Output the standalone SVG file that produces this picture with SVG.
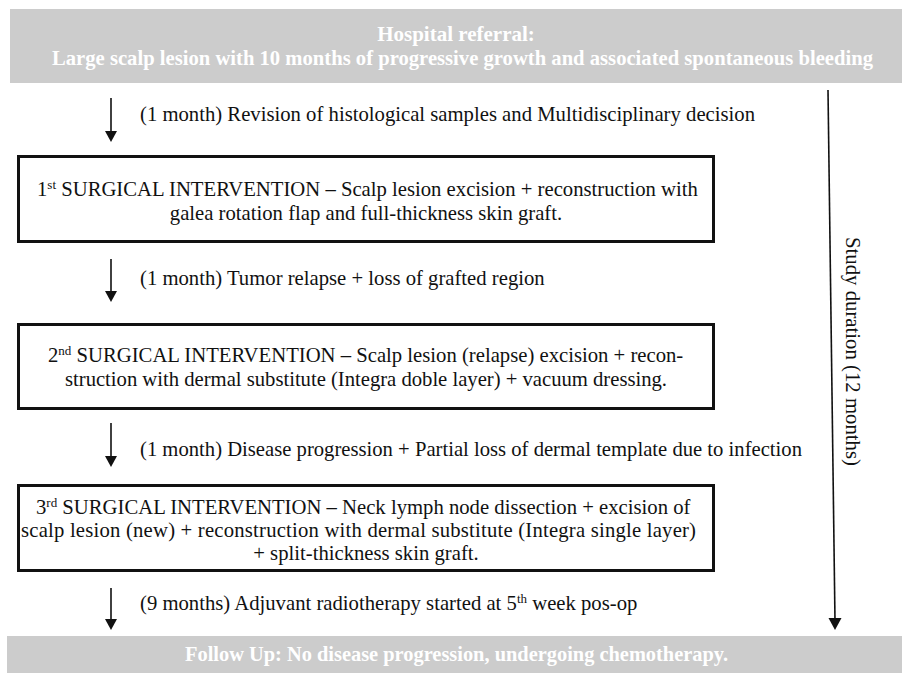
<svg xmlns="http://www.w3.org/2000/svg" width="902" height="673" viewBox="0 0 902 673">
<defs>
<style>
.t{font-family:"Liberation Serif","Times New Roman",serif;font-size:20.7px;fill:#111}
.b{font-family:"Liberation Serif","Times New Roman",serif;font-size:21px;font-weight:bold;fill:#fff}
.sup{font-size:13px}
.box{fill:#fff;stroke:#111;stroke-width:3}
.gray{fill:#cccccc}
.ln{stroke:#111;stroke-width:1.6;fill:none}
.hd{fill:#111}
</style>
</defs>
<rect width="902" height="673" fill="#fff"/>
<g id="referral">
<rect class="gray" x="10" y="9" width="892" height="74"/>
<text class="b" x="456" y="41" text-anchor="middle">Hospital referral:</text>
<text class="b" x="52" y="65" textLength="821" lengthAdjust="spacingAndGlyphs">Large scalp lesion with 10 months of progressive growth and associated spontaneous bleeding</text>
</g>
<g id="step1-label">
<text class="t" x="140" y="121" textLength="615" lengthAdjust="spacingAndGlyphs">(1 month) Revision of histological samples and Multidisciplinary decision</text>
</g>
<g id="surgery1">
<rect class="box" x="18.5" y="156.5" width="695" height="85"/>
<text class="t" x="37" y="196">1<tspan class="sup" dy="-7">st</tspan><tspan dy="7"> SURGICAL INTERVENTION – Scalp lesion excision + reconstruction with</tspan></text>
<text class="t" x="366" y="220" text-anchor="middle">galea rotation flap and full-thickness skin graft.</text>
</g>
<g id="step2-label">
<text class="t" x="140" y="285">(1 month) Tumor relapse + loss of grafted region</text>
</g>
<g id="surgery2">
<rect class="box" x="18.5" y="324.5" width="695" height="84"/>
<text class="t" x="48" y="362">2<tspan class="sup" dy="-7">nd</tspan><tspan dy="7"> SURGICAL INTERVENTION – Scalp lesion (relapse) excision + recon-</tspan></text>
<text class="t" x="65" y="386" textLength="602" lengthAdjust="spacing">struction with dermal substitute (Integra doble layer) + vacuum dressing.</text>
</g>
<g id="step3-label">
<text class="t" x="140" y="456" textLength="662" lengthAdjust="spacingAndGlyphs">(1 month) Disease progression + Partial loss of dermal template due to infection</text>
</g>
<g id="surgery3">
<rect class="box" x="18.5" y="485.5" width="695" height="85"/>
<text class="t" x="36" y="514">3<tspan class="sup" dy="-7">rd</tspan><tspan dy="7"> SURGICAL INTERVENTION – Neck lymph node dissection + excision of</tspan></text>
<text class="t" x="21" y="537" textLength="675" lengthAdjust="spacing">scalp lesion (new) + reconstruction with dermal substitute (Integra single layer)</text>
<text class="t" x="366" y="560" text-anchor="middle">+ split-thickness skin graft.</text>
</g>
<g id="step4-label">
<text class="t" x="140" y="610">(9 months) Adjuvant radiotherapy started at 5<tspan class="sup" dy="-7">th</tspan><tspan dy="7"> week pos-op</tspan></text>
</g>
<g id="followup">
<rect class="gray" x="7" y="636" width="895" height="37"/>
<text class="b" x="185" y="661" textLength="543" lengthAdjust="spacingAndGlyphs">Follow Up: No disease progression, undergoing chemotherapy.</text>
</g>
<g id="duration-label">
<text class="t" transform="translate(846,237) rotate(90)" x="0" y="0" textLength="229" lengthAdjust="spacingAndGlyphs">Study duration (12 months)</text>
</g>
<g id="connectors">
<line class="ln" x1="111" y1="98" x2="111" y2="134"/>
<polygon class="hd" points="105,131 117,131 111,142"/>
<line class="ln" x1="111" y1="259" x2="111" y2="294"/>
<polygon class="hd" points="105,291 117,291 111,302"/>
<line class="ln" x1="111" y1="423" x2="111" y2="459"/>
<polygon class="hd" points="105,456 117,456 111,467"/>
<line class="ln" x1="111" y1="588" x2="111" y2="622"/>
<polygon class="hd" points="105,619 117,619 111,630"/>
<line class="ln" x1="828" y1="90" x2="835" y2="621"/>
<polygon class="hd" points="828.5,618 841.5,618 835,630"/>
</g>
</svg>
